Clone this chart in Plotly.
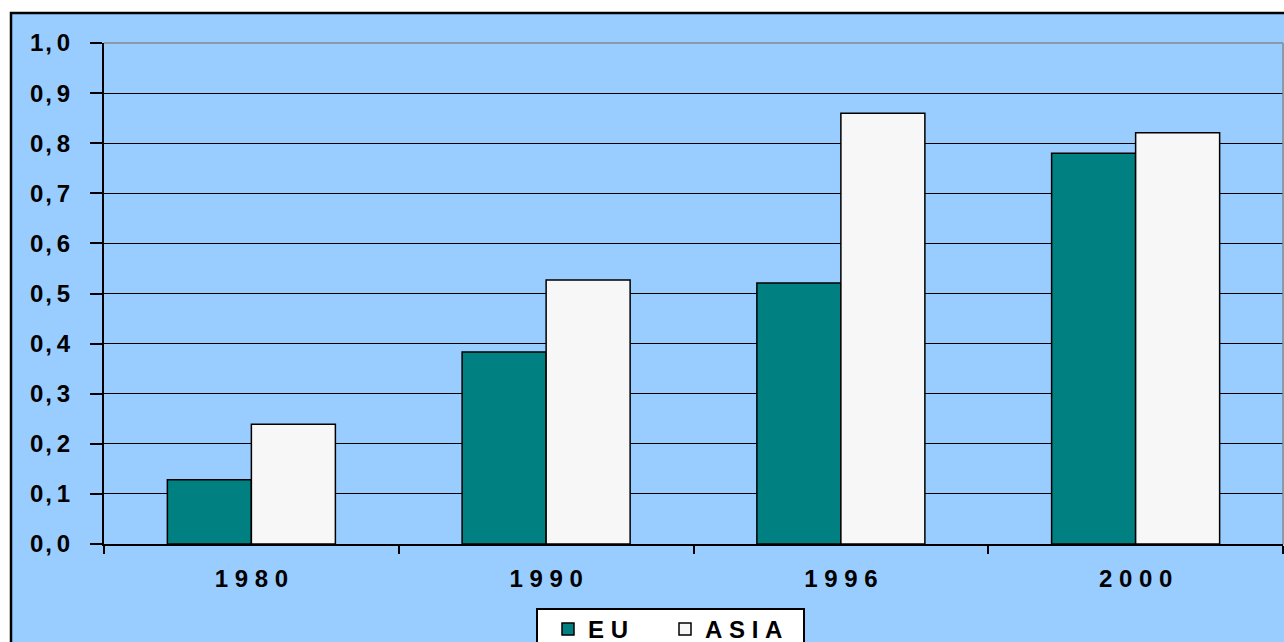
import plotly.graph_objects as go

years = ["1980", "1990", "1996", "2000"]
year_labels = ["1 9 8 0", "1 9 9 0", "1 9 9 6", "2 0 0 0"]
eu = [0.128, 0.383, 0.521, 0.780]
asia = [0.239, 0.527, 0.860, 0.821]
ytick_vals = [0.0, 0.1, 0.2, 0.3, 0.4, 0.5, 0.6, 0.7, 0.8, 0.9, 1.0]
ytick_text = ["0\u200a,\u20090", "0\u200a,\u20091", "0\u200a,\u20092", "0\u200a,\u20093", "0\u200a,\u20094",
              "0\u200a,\u20095", "0\u200a,\u20096", "0\u200a,\u20097", "0\u200a,\u20098", "0\u200a,\u20099", "1\u200a,\u20090"]
series_names = ["E\u00a0U", "A\u00a0S\u00a0I\u00a0A"]

BG = "#99CCFF"
FONT = "Liberation Sans, Arial, sans-serif"

fig = go.Figure()
fig.add_trace(go.Bar(x=years, y=eu, name=series_names[0], marker=dict(color="#008080", line=dict(color="black", width=1.5))))
fig.add_trace(go.Bar(x=years, y=asia, name=series_names[1], marker=dict(color="#F7F7F7", line=dict(color="black", width=1.5))))

W, H = 1284, 642
L, R, T, B = 104, 1, 43, 98
pw, ph = W - L - R, H - T - B

def px(xp):
    return (xp - L) / pw

def py(yp):
    return (H - B - yp) / ph

fig.update_layout(
    width=W, height=H,
    margin=dict(l=L, r=R, t=T, b=B, autoexpand=False),
    paper_bgcolor="white",
    plot_bgcolor="rgba(0,0,0,0)",
    barmode="group",
    bargap=0.43,
    bargroupgap=0,
    font=dict(family=FONT, color="black"),
    showlegend=True,
    legend=dict(
        orientation="h",
        x=px(548), xanchor="left",
        y=py(607), yanchor="top",
        bgcolor="rgba(0,0,0,0)", borderwidth=0,
        font=dict(size=24, family=FONT, weight="bold"),
        entrywidth=72,
        traceorder="normal",
    ),
    xaxis=dict(
        type="category",
        tickvals=years, ticktext=year_labels,
        tickfont=dict(size=24, family=FONT, weight="bold"),
        ticks="outside", tickson="boundaries", ticklen=8, tickwidth=1.5, tickcolor="black",
        ticklabelstandoff=12,
        showline=True, linecolor="black", linewidth=2,
        showgrid=False, zeroline=False,
    ),
    yaxis=dict(
        range=[0, 1.0],
        tickvals=ytick_vals, ticktext=ytick_text,
        tickfont=dict(size=24, family=FONT, weight="bold"),
        ticks="outside", ticklen=12, tickwidth=1.5, tickcolor="black",
        ticklabelstandoff=15,
        showline=True, linecolor="black", linewidth=2,
        showgrid=True, gridcolor="black", gridwidth=1.2,
        zeroline=False,
    ),
    shapes=[
        dict(type="rect", xref="paper", yref="paper",
             x0=px(11), x1=px(1300), y0=py(13), y1=py(700),
             fillcolor=BG, line=dict(color="black", width=2.5), layer="below"),
        dict(type="rect", xref="paper", yref="paper",
             x0=px(537), x1=px(804), y0=py(609), y1=py(660),
             fillcolor="white", line=dict(color="black", width=2), layer="below"),
        dict(type="line", xref="paper", yref="paper", x0=0, x1=1, y0=1, y1=1,
             line=dict(color="#888888", width=1.5), layer="above"),
        dict(type="line", xref="paper", yref="paper", x0=1, x1=1, y0=0, y1=1,
             line=dict(color="#888888", width=1.5), layer="above"),
    ],
)

fig.write_html(
    "out.html",
    config={"displayModeBar": False},
    post_script="document.body.style.margin='0';document.body.style.overflow='hidden';",
)
